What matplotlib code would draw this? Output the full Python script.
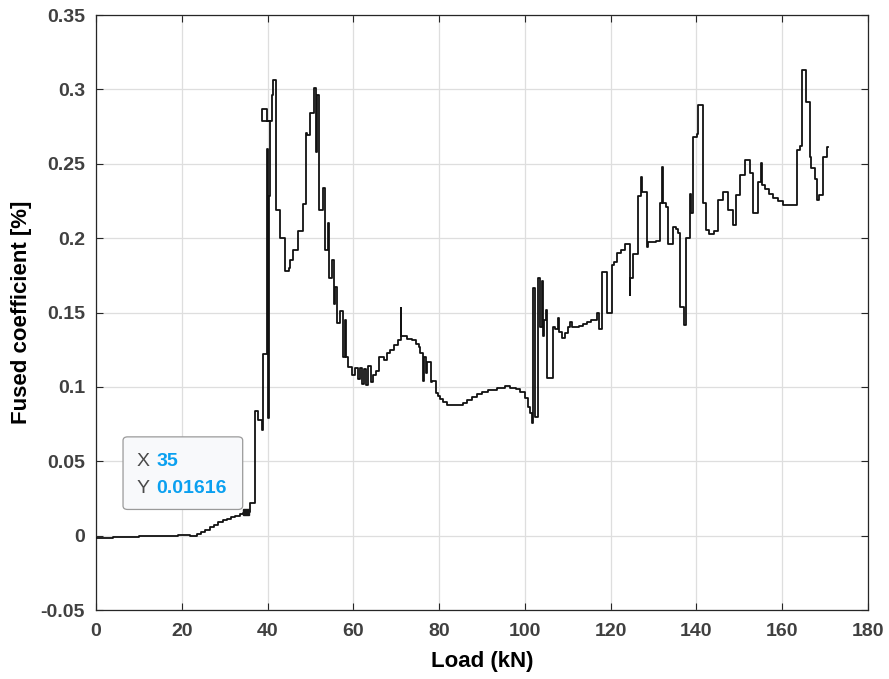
import numpy as np
from matplotlib import pyplot as plt
from matplotlib.patches import FancyBboxPatch

# load (kN) / fused coefficient (%)
load = [0, 4, 7, 10, 13, 16, 19, 22, 23.5, 24.5, 25.5, 26.5, 27.5, 28.5, 29.5,
        30.5, 31.5, 32.5, 33.5, 34.3, 35.0, 35.9, 37.0, 37.8, 38.6, 39.0, 39.8,
        40.0, 40.3, 40.6, 38.8, 39.9, 41.0, 41.3, 41.9, 42.9, 44.1, 45.0, 45.2,
        45.9, 47.2, 48.2, 49.0, 49.3, 50.0, 50.9, 51.2, 51.5, 51.9, 52.9, 53.5,
        54.0, 54.3, 55.0, 55.4, 55.7, 56.2, 56.8, 57.6, 58.0, 58.3, 58.8, 59.6,
        60.5, 61.0, 61.5, 62.0, 62.4, 63.0, 63.5, 64.0, 64.6, 65.3, 66.0, 67.2,
        67.8, 68.6, 69.5, 70.4, 71.0, 71.2, 72.5, 73.6, 74.5, 75.2, 75.6, 76.2,
        76.4, 77.0, 77.2, 78.0, 78.3, 79.3, 79.8, 80.3, 81.0, 81.8, 84.0, 85.6,
        86.6, 87.6, 88.8, 90.0, 91.5, 93.4, 95.4, 96.5, 98.0, 98.9, 100.0, 100.7,
        101.2, 101.7, 102.0, 102.3, 103.0, 103.1, 103.6, 103.9, 104.2, 104.4,
        105.0, 105.2, 106.5, 107.0, 107.6, 107.9, 108.6, 109.3, 110.1, 110.5,
        111.0, 112.5, 113.5, 114.5, 115.5, 116.7, 117.2, 117.9, 119.1, 120.2,
        120.8, 121.4, 122.5, 123.3, 124.4, 124.6, 125.3, 126.4, 127.0, 127.4,
        128.4, 128.8, 130.5, 131.5, 132.0, 132.3, 133.0, 133.4, 134.6, 135.2,
        135.8, 136.2, 137.2, 137.5, 138.5, 138.8, 139.3, 140.2, 140.4, 141.5,
        142.2, 143.0, 144.0, 145.1, 146.3, 147.4, 148.6, 149.2, 150.1, 151.3,
        152.5, 153.1, 154.4, 155.0, 155.2, 156.0, 157.0, 157.9, 159.0, 160.2,
        162.6, 163.4, 164.2, 164.5, 165.5, 166.5, 166.8, 167.6, 168.2, 168.5,
        169.6, 170.4, 170.6]
coef = [-0.0015, -0.0012, -0.0008, -0.0004, 0.0, -0.0002, 0.0001, 0.0, 0.001,
        0.0025, 0.004, 0.0055, 0.007, 0.009, 0.0105, 0.0115, 0.0125, 0.0135,
        0.0145, 0.0155, 0.0162, 0.022, 0.084, 0.078, 0.071, 0.122, 0.26, 0.079,
        0.228, 0.279, 0.287, 0.279, 0.296, 0.306, 0.219, 0.2, 0.178, 0.18, 0.185,
        0.192, 0.205, 0.223, 0.271, 0.269, 0.284, 0.301, 0.258, 0.296, 0.219,
        0.234, 0.192, 0.21, 0.173, 0.185, 0.156, 0.167, 0.143, 0.151, 0.12, 0.145,
        0.12, 0.1136, 0.108, 0.113, 0.105, 0.113, 0.102, 0.112, 0.101, 0.114,
        0.103, 0.108, 0.111, 0.12, 0.118, 0.1227, 0.125, 0.128, 0.1315, 0.153,
        0.134, 0.1325, 0.1315, 0.129, 0.127, 0.1227, 0.104, 0.12, 0.109, 0.117,
        0.103, 0.104, 0.096, 0.094, 0.092, 0.090, 0.0878, 0.0878, 0.0895, 0.0915,
        0.0934, 0.0955, 0.0968, 0.098, 0.0995, 0.1005, 0.0995, 0.0985, 0.0968,
        0.0925, 0.0867, 0.0822, 0.0755, 0.1664, 0.08, 0.0867, 0.173, 0.14, 0.171,
        0.134, 0.145, 0.152, 0.106, 0.140, 0.139, 0.146, 0.137, 0.1328, 0.136,
        0.140, 0.1438, 0.140, 0.141, 0.142, 0.1438, 0.145, 0.1495, 0.139, 0.1774,
        0.150, 0.182, 0.184, 0.190, 0.192, 0.196, 0.162, 0.173, 0.189, 0.228,
        0.241, 0.231, 0.194, 0.1976, 0.198, 0.2236, 0.248, 0.2236, 0.221, 0.196,
        0.2077, 0.206, 0.2035, 0.154, 0.1416, 0.200, 0.230, 0.217, 0.268, 0.270,
        0.2895, 0.2236, 0.2055, 0.203, 0.2045, 0.2256, 0.231, 0.219, 0.209, 0.229,
        0.2424, 0.2525, 0.2436, 0.217, 0.238, 0.2505, 0.236, 0.233, 0.23, 0.227,
        0.225, 0.2223, 0.222, 0.259, 0.262, 0.313, 0.2917, 0.2548, 0.247, 0.24,
        0.2256, 0.229, 0.2548, 0.2614, 0.2614]

tip_x = 35
tip_y = 0.01616

x_ticks = np.arange(0, 181, 20)
y_ticks = [-0.05, 0, 0.05, 0.1, 0.15, 0.2, 0.25, 0.3, 0.35]
y_tick_labels = ['-0.05', '0', '0.05', '0.1', '0.15', '0.2', '0.25', '0.3', '0.35']

plt.rcParams['font.family'] = ['Liberation Sans', 'DejaVu Sans']

fig = plt.figure(figsize=(8.89, 6.79), dpi=100)
ax = fig.add_axes([0.108, 0.1016, 0.8684, 0.8763])

ax.plot(load, coef, color='#111111', linewidth=1.3, drawstyle='steps-post', zorder=3)
ax.plot([tip_x], [tip_y], marker='s', color='#1a1a1a', markersize=5, zorder=4)

ax.set_xlim(0, 180)
ax.set_ylim(-0.05, 0.35)
ax.set_xticks(x_ticks)
ax.set_yticks(y_ticks)
ax.set_yticklabels(y_tick_labels)
ax.grid(True, color='#dedede', linewidth=0.9)
ax.set_axisbelow(True)

for s in ax.spines.values():
    s.set_color('#262626')
    s.set_linewidth(0.9)
ax.tick_params(direction='in', top=True, right=True, length=5, width=0.8,
               colors='#262626', labelsize=14)
ax.tick_params(axis='x', pad=9)
ax.tick_params(axis='y', pad=8)
for lab in ax.get_xticklabels() + ax.get_yticklabels():
    lab.set_fontweight('bold')
    lab.set_color('#404040')

ax.set_xlabel('Load (kN)', fontsize=16, fontweight='bold', labelpad=8)
ax.set_ylabel('Fused coefficient [%]', fontsize=16, fontweight='bold', labelpad=6)

# data tip box
box = FancyBboxPatch((0.037, 0.171), 0.151, 0.118,
                     boxstyle='round,pad=0.002,rounding_size=0.006',
                     transform=ax.transAxes, facecolor='#f8f9fb',
                     edgecolor='#9a9a9a', linewidth=0.9, zorder=5)
ax.add_patch(box)
ax.text(0.053, 0.249, 'X', transform=ax.transAxes, fontsize=14,
        color='#4a4a4a', va='center', zorder=6)
ax.text(0.078, 0.249, '35', transform=ax.transAxes, fontsize=14,
        color='#0aa0f0', fontweight='bold', va='center', zorder=6)
ax.text(0.053, 0.204, 'Y', transform=ax.transAxes, fontsize=14,
        color='#4a4a4a', va='center', zorder=6)
ax.text(0.078, 0.204, '0.01616', transform=ax.transAxes, fontsize=14,
        color='#0aa0f0', fontweight='bold', va='center', zorder=6)

fig.savefig('out.png', dpi=100)
